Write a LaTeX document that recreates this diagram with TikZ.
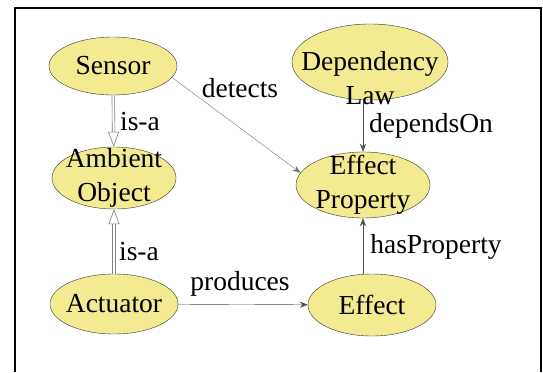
\documentclass[tikz,border=0pt]{standalone}
\usepackage{fontspec}
\setmainfont{Liberation Serif}
\newfontfamily\objfont{Liberation Serif}
\usetikzlibrary{shapes.geometric,arrows.meta}
\definecolor{objfill}{RGB}{243,235,145}
\begin{document}
\begin{tikzpicture}[x=1pt, y=-1pt,
    every node/.style={font=\objfont\fontsize{27.5}{34}\selectfont},
    obj/.style={ellipse, draw=black!80, fill=objfill, inner sep=0pt},
    txt/.style={align=center, inner sep=0pt},
    rel/.style={draw=black!70, -{Stealth[length=8pt,width=6pt]}},
    isa/.style={draw=gray, double, double distance=2pt, line width=0.6pt,
      -{Triangle[open,length=15pt,width=11pt]}}]
      \useasboundingbox (0,0) rectangle (543,372);
      % frame
      \draw[line width=2.5pt] (15,372) |- (541,8) -- (541,372);
      % classes
      \node[obj, minimum width=128, minimum height=58] (sensor) at (113,66) {};
      \node[txt] (sensor-t) at (sensor) {Sensor};
      \node[obj, minimum width=124, minimum height=62] (ambient) at (114,178) {};
      \node[txt] (ambient-t) at (ambient) {Ambient\\Object};
      \node[obj, minimum width=128, minimum height=60] (actuator) at (114,304) {};
      \node[txt] (actuator-t) at (actuator) {Actuator};
      \node[obj, minimum width=156, minimum height=76] (deplaw) at (370,62) {};
      \node[txt] (deplaw-t) at (370,78) {Dependency\\Law};
      \node[obj, minimum width=134, minimum height=66] (effprop) at (363,185) {};
      \node[txt] (effprop-t) at (effprop) {Effect\\Property};
      \node[obj, minimum width=128, minimum height=62] (effect) at (372,305) {};
      \node[txt] (effect-t) at (effect) {Effect};
      % is-a links
      \draw[isa] (sensor) -- (ambient);
      \draw[isa] (actuator) -- (ambient);
      \node[txt] (isa1) at (140,122) {is-a};
      \node[txt] (isa2) at (139,252) {is-a};
      % relations
      \draw[rel, draw=black!55] (sensor.-11) -- (effprop.169);
      \node[txt] (detects) at (240,88) {detects};
      \draw[rel] (effprop.north |- deplaw.south) -- (effprop.north);
      \node[txt] (dependson) at (431,126) {dependsOn};
      \draw[rel] (effprop.south |- effect.north) -- (effprop.south);
      \node[txt] (hasprop) at (436,247) {hasProperty};
      \draw[rel] (actuator) -- (effect);
      \node[txt] (produces) at (240,284) {produces};
    \end{tikzpicture}
\end{document}
